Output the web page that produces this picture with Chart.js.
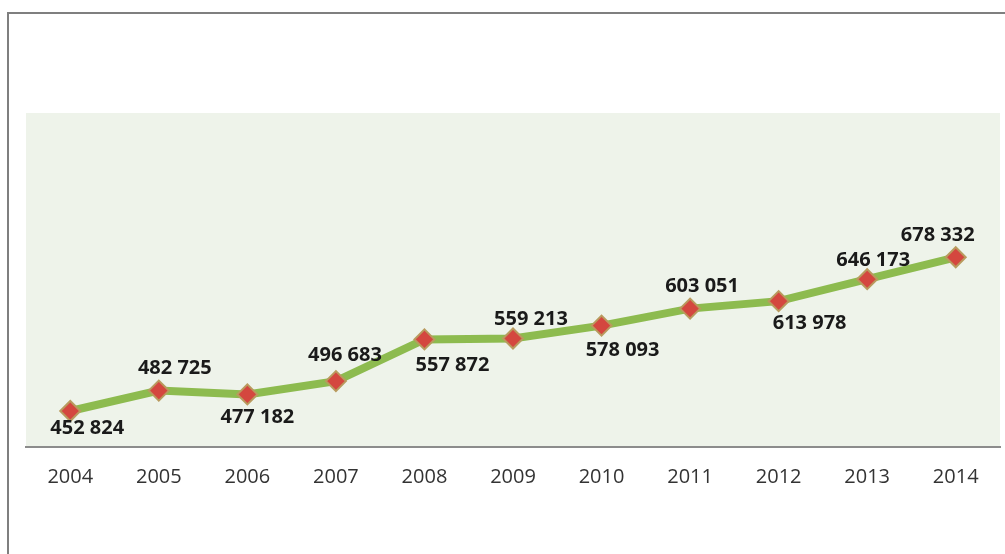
<!DOCTYPE html>
<html>
<head>
<meta charset="utf-8">
<script src="https://cdn.jsdelivr.net/npm/chart.js@4.4.1/dist/chart.umd.min.js"></script>
<style>
  html, body { margin: 0; padding: 0; background: #fff; }
  #wrap { position: relative; width: 1005px; height: 554px; overflow: hidden; }
  #frame {
    position: absolute; left: 7px; top: 12px; width: 1100px; height: 700px;
    border: 2px solid #7f7f7f; box-sizing: border-box;
  }
  #chart { position: absolute; left: 0; top: 0; }
</style>
</head>
<body>
<div id="wrap">
  <div id="frame"></div>
  <canvas id="chart" width="1012" height="554"></canvas>
</div>
<script>
// chart data
const years = ["2004", "2005", "2006", "2007", "2008", "2009", "2010", "2011", "2012", "2013", "2014"];
const values = [452824, 482725, 477182, 496683, 557872, 559213, 578093, 603051, 613978, 646173, 678332];

// where each value label sits relative to its marker (px)
const labelDx = [17, 16, 10, 9, 28, 18, 21, 12, 31, 6, -18];
const labelDy = [17, -22, 23, -26, 26, -19, 25, -22, 22, -19, -22];

function fmt(v) {
  return String(v).replace(/\B(?=(\d{3})+(?!\d))/g, " ");
}

const plotBackground = {
  id: 'plotBackground',
  beforeDraw(chart) {
    const { ctx, chartArea: a } = chart;
    ctx.save();
    ctx.fillStyle = '#eef3ea';
    ctx.fillRect(a.left, a.top, a.right - a.left, a.bottom - a.top);
    ctx.restore();
  }
};

const valueLabels = {
  id: 'valueLabels',
  afterDatasetsDraw(chart) {
    const ctx = chart.ctx;
    const meta = chart.getDatasetMeta(0);
    ctx.save();
    ctx.font = 'bold 20px "Open Sans"';
    ctx.fillStyle = '#1a1a1a';
    ctx.textAlign = 'center';
    ctx.textBaseline = 'middle';
    meta.data.forEach((pt, i) => {
      ctx.fillText(fmt(values[i]), pt.x + labelDx[i], pt.y + labelDy[i]);
    });
    ctx.restore();
  }
};

new Chart(document.getElementById('chart').getContext('2d'), {
  type: 'line',
  data: {
    labels: years,
    datasets: [{
      data: values,
      borderColor: '#8dbb4f',
      borderWidth: 8,
      tension: 0,
      pointStyle: 'rectRot',
      pointRadius: 10,
      pointBackgroundColor: '#d4473f',
      pointBorderColor: '#b99a5e',
      pointBorderWidth: 2,
      fill: false
    }]
  },
  options: {
    responsive: false,
    animation: false,
    layout: { padding: { left: 26, right: 0, top: 113, bottom: 47 } },
    plugins: {
      legend: { display: false },
      tooltip: { enabled: false }
    },
    scales: {
      x: {
        offset: true,
        grid: { display: false, drawTicks: false },
        border: { display: true, color: '#8c8c8c', width: 2 },
        ticks: {
          padding: 18,
          color: '#333333',
          font: { family: 'Open Sans', size: 20 }
        }
      },
      y: {
        display: false,
        min: 400000,
        max: 890000
      }
    }
  },
  plugins: [plotBackground, valueLabels]
});
</script>
</body>
</html>
